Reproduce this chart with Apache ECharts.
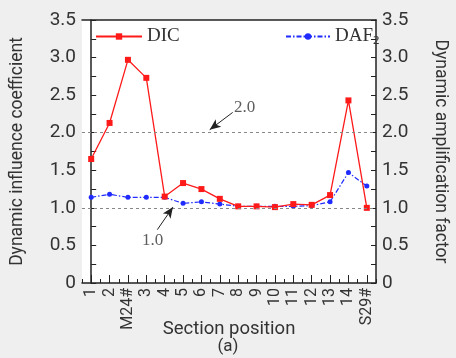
<!DOCTYPE html>
<html>
<head>
<meta charset="utf-8">
<script src="https://cdn.jsdelivr.net/npm/echarts@6/dist/echarts.min.js"></script>
<style>
  html, body { margin: 0; padding: 0; background: #efefef; }
  #chart { width: 456px; height: 358px; }
</style>
</head>
<body>
<div id="chart"></div>
<script>
var sections = ["1", "2", "M24#", "3", "4", "5", "6", "7", "8", "9", "10", "11", "12", "13", "14", "S29#"];
var dicValues = [1.65, 2.13, 2.97, 2.73, 1.15, 1.33, 1.25, 1.12, 1.02, 1.02, 1.01, 1.05, 1.04, 1.17, 2.43, 1.00];
var dafValues = [1.14, 1.18, 1.14, 1.14, 1.14, 1.06, 1.08, 1.05, 1.02, 1.02, 1.02, 1.02, 1.03, 1.08, 1.47, 1.29];
var yTicks = [0, 0.5, 1.0, 1.5, 2.0, 2.5, 3.0, 3.5];
var refLevels = [2.0, 1.0];
// annotation: label spot, arrow tail, arrow tip  (x as section index, y as value)
var notes = [
  { text: "2.0", at: [8.35, 2.33], from: [7.7, 2.27], to: [6.45, 2.04] },
  { text: "1.0", at: [3.35, 0.56], from: [3.6, 0.71], to: [4.45, 1.01] }
];

var chart = echarts.init(document.getElementById("chart"));
var axisColor = "#222";
var labelColor = "#333";

function yLabel(v) {
  return v === 0 ? "0" : v.toFixed(1);
}

var yBase = {
  type: "value",
  min: yTicks[0],
  max: yTicks[yTicks.length - 1],
  interval: 0.5,
  axisLine: { show: true, lineStyle: { color: axisColor, width: 1.5 } },
  axisTick: { show: true, inside: true, length: 5, lineStyle: { color: axisColor } },
  minorTick: { show: true, splitNumber: 2, length: 5, lineStyle: { color: axisColor } },
  splitLine: { show: false },
  axisLabel: { formatter: yLabel, fontFamily: "Roboto", fontSize: 19, color: labelColor, margin: 6 },
  nameLocation: "middle",
  nameMoveOverlap: false,
  nameTextStyle: { fontFamily: "Roboto", fontSize: 17.5, color: labelColor }
};

var option = {
  backgroundColor: "#efefef",
  animation: false,
  title: {
    text: "(a)",
    left: "center",
    top: 338,
    padding: 0,
    textStyle: { fontFamily: "Roboto", fontSize: 17, fontWeight: "normal", color: labelColor }
  },
  grid: {
    left: 82, right: 80, top: 20, bottom: 75,
    containLabel: false, outerBoundsMode: "none",
    show: true, backgroundColor: "#fff", borderWidth: 0
  },
  legend: [
    {
      data: ["DIC"], left: 90, top: 22, itemWidth: 46, itemHeight: 8,
      textStyle: { fontFamily: "Liberation Serif", fontSize: 19, color: "#333" }
    },
    {
      data: ["DAF2"], left: 280, top: 22, itemWidth: 44, itemHeight: 8,
      formatter: function (n) { return n === "DAF2" ? "DAF{s|2}" : n; },
      textStyle: {
        fontFamily: "Liberation Serif", fontSize: 19, color: "#333",
        rich: { s: { fontFamily: "Liberation Serif", fontSize: 13, color: "#333", padding: [9, 0, 0, 0] } }
      }
    }
  ],
  xAxis: [
    {
      type: "category",
      data: sections,
      boundaryGap: true,
      name: "Section position",
      nameLocation: "middle",
      nameGap: 37,
      nameMoveOverlap: false,
      nameTextStyle: { fontFamily: "Roboto", fontSize: 18.5, color: labelColor },
      axisLine: { show: true, lineStyle: { color: axisColor, width: 1.5 } },
      axisTick: { show: true, inside: true, alignWithLabel: true, length: 8, lineStyle: { color: axisColor } },
      axisLabel: { interval: 0, rotate: 90, fontFamily: "Roboto", fontSize: 16, color: labelColor, margin: 5 },
      splitLine: { show: false }
    },
    {
      type: "category",
      data: sections,
      boundaryGap: true,
      position: "bottom",
      axisLine: { show: false },
      axisTick: { show: true, inside: true, interval: 0, length: 4, lineStyle: { color: axisColor } },
      axisLabel: { show: false },
      splitLine: { show: false }
    },
    {
      type: "value",
      min: -0.5,
      max: sections.length - 0.5,
      show: false
    },
    {
      type: "category",
      data: sections,
      position: "top",
      axisLine: { show: true, lineStyle: { color: axisColor, width: 1.5 } },
      axisTick: { show: false },
      axisLabel: { show: false }
    }
  ],
  yAxis: [
    Object.assign({}, yBase, { position: "left", name: "Dynamic influence coefficient", nameGap: 55 }),
    Object.assign({}, yBase, { position: "right", name: "Dynamic amplification factor", nameGap: 55, nameRotate: -90 })
  ],
  series: [
    {
      name: "DIC",
      type: "line",
      data: dicValues,
      xAxisIndex: 0,
      yAxisIndex: 0,
      color: "#ff1a1a",
      symbol: "rect",
      symbolSize: 6,
      lineStyle: { width: 1.3, color: "#ff1a1a" },
      itemStyle: { color: "#ff1a1a" },
      z: 4,
      markLine: {
        silent: true,
        symbol: "none",
        label: { show: false },
        lineStyle: { color: "#888", type: [3, 3], width: 1.2 },
        data: refLevels.map(function (v) { return { yAxis: v }; })
      }
    },
    {
      name: "DAF2",
      type: "line",
      data: dafValues,
      xAxisIndex: 0,
      yAxisIndex: 1,
      color: "#1f2bff",
      symbol: "circle",
      symbolSize: 5,
      lineStyle: { width: 1.2, color: "#1f2bff", type: [5, 2, 1.5, 2] },
      itemStyle: { color: "#1f2bff" },
      z: 3
    },
    {
      name: "notes",
      type: "scatter",
      xAxisIndex: 2,
      yAxisIndex: 0,
      symbolSize: 0,
      silent: true,
      data: notes.map(function (n) { return { value: n.at, name: n.text }; }),
      label: {
        show: true,
        position: "inside",
        formatter: "{b}",
        fontFamily: "Liberation Serif",
        fontSize: 17,
        color: "#333"
      },
      markLine: {
        silent: true,
        symbol: ["none", "arrow"],
        symbolSize: [7, 11],
        label: { show: false },
        lineStyle: { color: "#222", type: "solid", width: 1 },
        data: notes.map(function (n) { return [{ coord: n.from }, { coord: n.to }]; })
      }
    }
  ]
};

chart.setOption(option);
</script>
</body>
</html>
